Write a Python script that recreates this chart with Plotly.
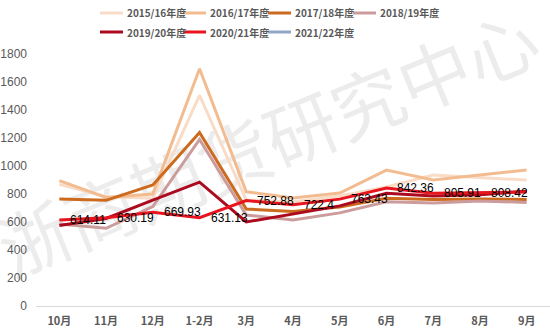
import plotly.graph_objects as go

months = ["10月", "11月", "12月", "1-2月", "3月", "4月", "5月", "6月", "7月", "8月", "9月"]
s1516 = [870, 780, 770, 1505, 757, 745, 786, 850, 935, 915, 900]
s1617 = [895, 775, 800, 1695, 816, 771, 807, 971, 900, 935, 971]
s1718 = [765, 755, 865, 1240, 693, 675, 707, 770, 760, 765, 760]
s1819 = [585, 555, 710, 1190, 650, 614, 665, 745, 735, 750, 740]
s1920 = [575, 625, 757, 885, 600, 655, 715, 805, 785, 795, 820]
s2021 = [614.11, 630.19, 669.93, 631.13, 752.88, 722.4, 763.43, 842.36, 805.91, 808.42, 815]
s2122 = [None] * 11
labels2021 = ["614.11", "630.19", "669.93", "631.13", "752.88", "722.4", "763.43", "842.36", "805.91", "808.42", ""]

names = ["2015/16年度", "2016/17年度", "2017/18年度", "2018/19年度", "2019/20年度", "2020/21年度", "2021/22年度"]
values = [s1516, s1617, s1718, s1819, s1920, s2021, s2122]
colors = ["#F9DCC8", "#F2BC90", "#CC6A1E", "#CC9C9C", "#AC0A1E", "#E8141E", "#93A5C6"]

L, T, B, W, H = 36, 54, 26, 550, 332
pw = W - L
ph = H - T - B


def px2paper(x, y):
    return (x - L) / pw, (H - B - y) / ph


fig = go.Figure()

# watermark (below traces)
x0, y0 = px2paper(30, 250)
x1, y1 = px2paper(512, 52)
fig.add_shape(type="line", xref="paper", yref="paper", x0=x0, y0=y0, x1=x1, y1=y1,
              layer="below", line=dict(color="rgba(0,0,0,0)", width=0),
              label=dict(text="浙商期货研究中心", textposition="middle", yanchor="middle",
                         font=dict(family="Noto Sans CJK SC", size=72, color="rgba(200,200,200,0.35)")))

for name, ys, color in zip(names, values, colors):
    fig.add_trace(go.Scatter(x=months, y=ys, name=name, mode="lines",
                             line=dict(color=color, width=3), showlegend=False))

# data labels for 2020/21
for m, v, t in zip(months, s2021, labels2021):
    if t:
        fig.add_annotation(x=m, y=v, text=t, showarrow=False, xanchor="left", yanchor="middle",
                           xshift=9, font=dict(family="Liberation Sans, Arial", size=12, color="#000000"))

# legend (manual, two rows)
leg_pos = [(100, 13), (183, 13), (268, 13), (353, 13), (100, 32), (183, 32), (268, 32)]
for (lx, ly), name, color in zip(leg_pos, names, colors):
    ax0, ay = px2paper(lx, ly)
    ax1, _ = px2paper(lx + 23, ly)
    fig.add_shape(type="line", xref="paper", yref="paper", x0=ax0, x1=ax1, y0=ay, y1=ay,
                  line=dict(color=color, width=3))
    tx, _ = px2paper(lx + 25, ly)
    fig.add_annotation(xref="paper", yref="paper", x=tx, y=ay, text=name, showarrow=False,
                       xanchor="left", yanchor="middle",
                       font=dict(family="Noto Sans CJK SC", size=10, color="#595959", weight="bold"))

fig.update_layout(
    width=W, height=H,
    margin=dict(l=L, r=0, t=T, b=B, pad=0),
    plot_bgcolor="white", paper_bgcolor="white",
    font=dict(family="Noto Sans CJK SC", size=11, color="#595959"),
    showlegend=False,
    xaxis=dict(type="category", showgrid=False, showline=True, linecolor="#D9D9D9",
               linewidth=1, ticks="", tickfont=dict(size=11, color="#595959", weight="bold"),
               range=[-0.5, 10.5], zeroline=False, ticklabelstandoff=5),
    yaxis=dict(range=[0, 1800], tickvals=list(range(0, 1801, 200)), showgrid=False,
               showline=False, zeroline=False, ticks="", ticklabelstandoff=8,
               tickfont=dict(family="Liberation Sans, Arial", size=12, color="#595959")),
)

fig.write_html("out.html")
